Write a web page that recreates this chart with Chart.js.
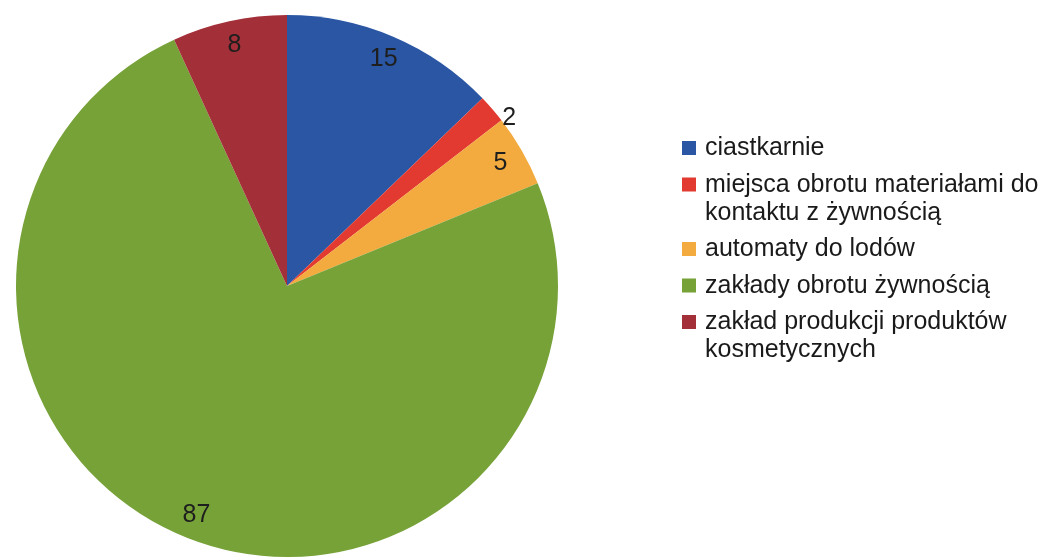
<!DOCTYPE html>
<html>
<head>
<meta charset="utf-8">
<script src="https://cdn.jsdelivr.net/npm/chart.js@4/dist/chart.umd.min.js"></script>
<style>
  html, body { margin: 0; padding: 0; background: #fff; }
  canvas { display: block; }
</style>
</head>
<body>
<canvas id="pieChart" width="1045" height="558"></canvas>
<script>
const categories = [
  'ciastkarnie',
  'miejsca obrotu materiałami do kontaktu z żywnością',
  'automaty do lodów',
  'zakłady obrotu żywnością',
  'zakład produkcji produktów kosmetycznych'
];
const values = [15, 2, 5, 87, 8];
const colors = ['#2a56a3', '#e23a31', '#f3aa3e', '#77a238', '#a32f39'];

const FONT = '25px "Liberation Sans", Arial, sans-serif';

// wpisy na wycinkach
const sliceLabels = {
  id: 'sliceLabels',
  afterDatasetsDraw(chart, args, opts) {
    const ctx = chart.ctx;
    const meta = chart.getDatasetMeta(0);
    ctx.save();
    ctx.font = FONT;
    ctx.fillStyle = '#1e1e1e';
    ctx.textAlign = 'center';
    ctx.textBaseline = 'middle';
    meta.data.forEach((arc, i) => {
      const p = arc.getProps(['x', 'y', 'startAngle', 'endAngle', 'outerRadius'], true);
      const mid = (p.startAngle + p.endAngle) / 2;
      const f = (opts.radial && opts.radial[i]) || opts.factor;
      const sh = (opts.shift && opts.shift[i]) || [0, 0];
      const r = p.outerRadius * f;
      ctx.fillText(String(chart.data.datasets[0].data[i]),
        p.x + Math.cos(mid) * r + sh[0], p.y + Math.sin(mid) * r + sh[1]);
    });
    ctx.restore();
  }
};

// legenda po prawej stronie
const sideLegend = {
  id: 'sideLegend',
  afterDraw(chart, args, opts) {
    const ctx = chart.ctx;
    const ds = chart.data.datasets[0];
    ctx.save();
    ctx.font = FONT;
    ctx.textBaseline = 'alphabetic';
    ctx.textAlign = 'left';
    let y = opts.top;
    chart.data.labels.forEach((label, i) => {
      // zawijanie tekstu
      const words = label.split(' ');
      const lines = [];
      let cur = '';
      words.forEach(w => {
        const t = cur ? cur + ' ' + w : w;
        if (ctx.measureText(t).width > opts.maxWidth && cur) {
          lines.push(cur);
          cur = w;
        } else {
          cur = t;
        }
      });
      lines.push(cur);

      ctx.fillStyle = ds.backgroundColor[i];
      ctx.fillRect(opts.x, y - opts.box, opts.box, opts.box);
      ctx.fillStyle = '#1a1a1a';
      lines.forEach((ln, k) => {
        ctx.fillText(ln, opts.x + opts.textGap, y + k * opts.lineHeight);
      });
      y += (lines.length - 1) * opts.lineHeight + opts.itemGap;
    });
    ctx.restore();
  }
};

const chart = new Chart(document.getElementById('pieChart'), {
  type: 'pie',
  data: {
    labels: categories,
    datasets: [{
      data: values,
      backgroundColor: colors,
      borderWidth: 0
    }]
  },
  options: {
    responsive: false,
    animation: false,
    devicePixelRatio: 1,
    layout: { padding: { left: 15, top: 15, right: 486, bottom: 1 } },
    plugins: {
      legend: { display: false },
      tooltip: { enabled: false },
      sliceLabels: {
        factor: 0.91,
        radial: { 1: 1.0 },
        shift: { 1: [17, 9] }
      },
      sideLegend: {
        x: 682, top: 155, box: 14, textGap: 23,
        lineHeight: 28, itemGap: 36.5, maxWidth: 350
      }
    }
  },
  plugins: [sliceLabels, sideLegend]
});
</script>
</body>
</html>
